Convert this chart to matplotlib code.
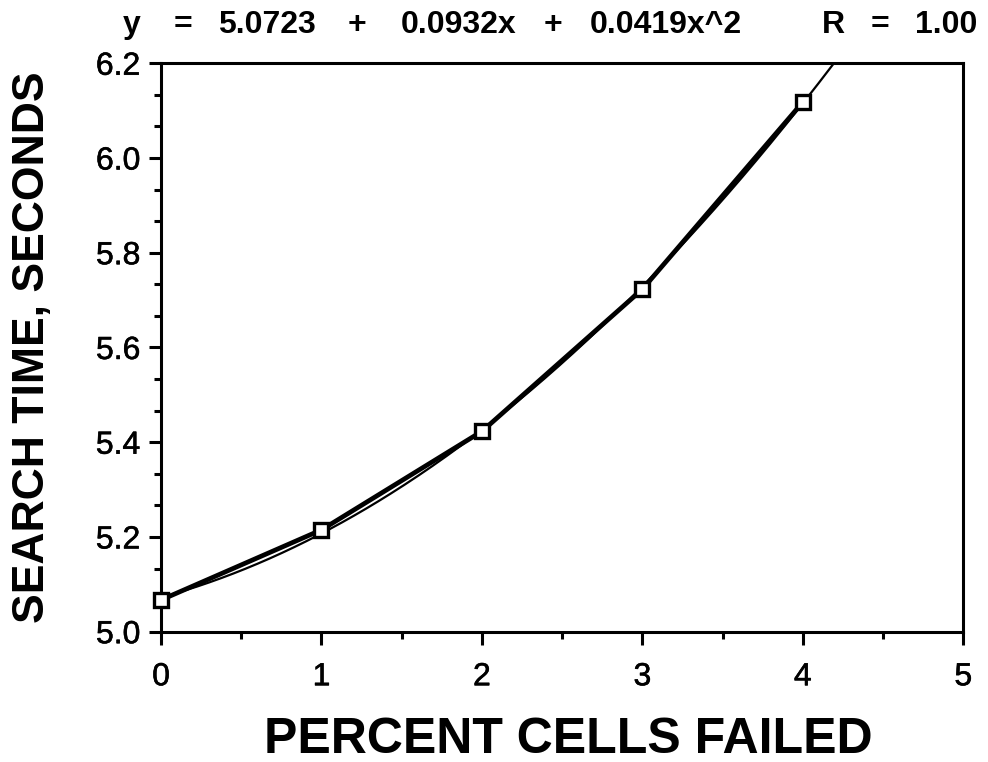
import numpy as np
import matplotlib
matplotlib.use("Agg")
import matplotlib.pyplot as plt
import matplotlib.patheffects as pe
from matplotlib.ticker import MultipleLocator

plt.rcParams['font.family'] = ['Liberation Sans', 'DejaVu Sans']

# measured points
pct_failed = [0, 1, 2, 3, 4]
search_time = [5.067, 5.215, 5.423, 5.723, 6.118]

# fit coefficients printed above the plot
fit_coef = [5.0723, 0.0932, 0.0419]
fit_r = 1.00

y_ticks = [5.0, 5.2, 5.4, 5.6, 5.8, 6.0, 6.2]
x_ticks = [0, 1, 2, 3, 4, 5]

fig = plt.figure(figsize=(9.88, 7.62), dpi=100)
ax = fig.add_axes([0.163, 0.171, 0.812, 0.746])

# fitted curve (thin), runs off the top of the plot
xf = np.linspace(0, 5, 400)
yf = fit_coef[0] + fit_coef[1] * xf + fit_coef[2] * xf ** 2
ax.plot(xf, yf, color='black', lw=1.6, zorder=2)

# data line (thick) with open squares
ax.plot(pct_failed, search_time, color='black', lw=3.4, zorder=3)
ax.plot(pct_failed, search_time, ls='none', marker='s', ms=10.5,
        mfc='white', mec='black', mew=2.4, zorder=4, clip_on=False)

ax.set_xlim(0, 5)
ax.set_ylim(5.0, 6.2)
ax.set_xticks(x_ticks)
ax.xaxis.set_minor_locator(MultipleLocator(0.5))
ax.set_yticks(y_ticks)
ax.set_yticklabels(['%.1f' % v for v in y_ticks])
ax.yaxis.set_minor_locator(MultipleLocator(0.2 / 3))

for s in ax.spines.values():
    s.set_linewidth(2.2)
ax.tick_params(which='major', direction='out', length=9, width=2.2,
               labelsize=23)
ax.tick_params(axis='x', which='major', pad=13)
ax.tick_params(axis='y', which='major', pad=6)
ax.tick_params(which='minor', direction='out', length=5, width=2.2)
for lab in ax.get_xticklabels() + ax.get_yticklabels():
    lab.set_path_effects([pe.withStroke(linewidth=0.4, foreground='black')])

fig.text(568 / 988, 1 - 753 / 762, 'PERCENT CELLS FAILED', ha='center',
         va='baseline', fontsize=36, fontweight='bold')
fig.text(44 / 988, 1 - 347 / 762, 'SEARCH TIME, SECONDS', ha='center',
         va='baseline', rotation=90, rotation_mode='anchor',
         fontsize=32, fontweight='bold')

# equation line across the top, pieces spaced like the original
pieces = [('y', 132), ('=', 183), ('%.4f' % fit_coef[0], 267), ('+', 357),
          ('%.4fx' % fit_coef[1], 459), ('+', 553),
          ('%.4fx^2' % fit_coef[2], 666), ('R', 833), ('=', 880),
          ('%.2f' % fit_r, 946)]
for txt, xc in pieces:
    fig.text(xc / 988, 1 - 33 / 762, txt, ha='center', va='baseline',
             fontsize=23, fontweight='bold')

fig.savefig('out.png', dpi=100)
